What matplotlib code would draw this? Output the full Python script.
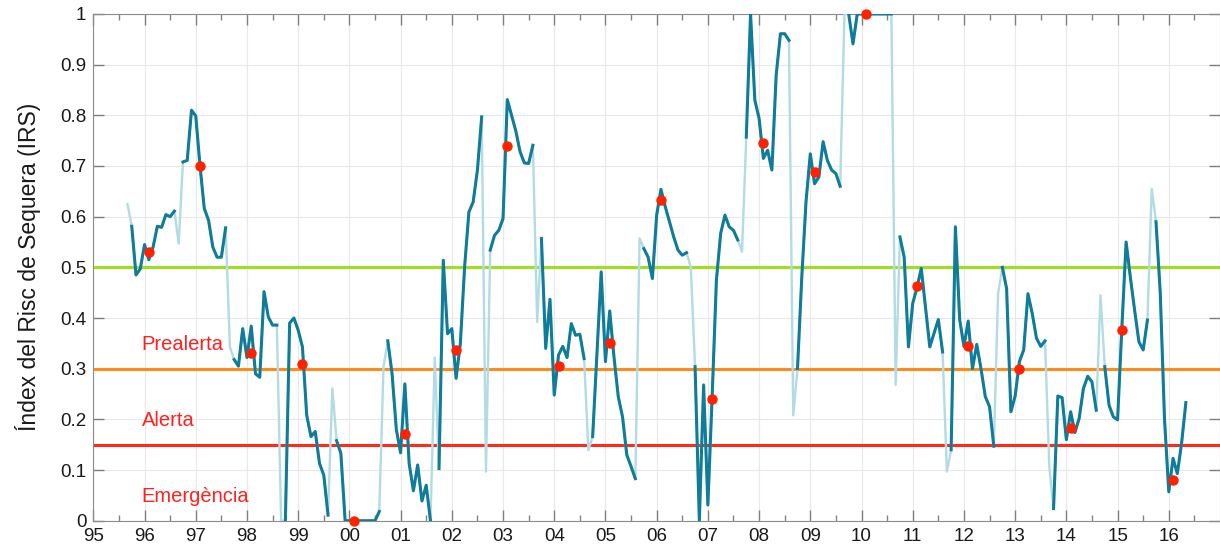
import numpy as np
import matplotlib.pyplot as plt

plt.rcParams['font.family'] = ['Liberation Sans', 'DejaVu Sans']

# valors mensuals de l'IRS, des de setembre de 1995 (any 95 + 8/12)
irs = [
    0.625, 0.581, 0.485, 0.497, 0.545, 0.515, 0.540, 0.581, 0.579, 0.604, 0.600, 0.611,
    0.547, 0.708, 0.711, 0.810, 0.799, 0.700, 0.616, 0.593, 0.540, 0.520, 0.520, 0.578,
    0.343, 0.318, 0.305, 0.379, 0.322, 0.384, 0.290, 0.283, 0.452, 0.402, 0.386, 0.386,
    0.000, 0.000, 0.390, 0.400, 0.376, 0.343, 0.208, 0.166, 0.176, 0.113, 0.090, 0.011,
    0.261, 0.158, 0.133, 0.000, 0.000, 0.000, 0.000, 0.000, 0.000, 0.000, 0.000, 0.018,
    0.304, 0.355, 0.290, 0.180, 0.134, 0.270, 0.113, 0.059, 0.110, 0.039, 0.070, 0.000,
    0.322, 0.103, 0.514, 0.369, 0.379, 0.281, 0.350, 0.501, 0.609, 0.629, 0.692, 0.797,
    0.097, 0.534, 0.563, 0.573, 0.596, 0.831, 0.800, 0.769, 0.728, 0.706, 0.705, 0.741,
    0.392, 0.557, 0.340, 0.437, 0.248, 0.327, 0.344, 0.322, 0.389, 0.366, 0.368, 0.320,
    0.139, 0.166, 0.330, 0.491, 0.314, 0.414, 0.323, 0.245, 0.205, 0.130, 0.107, 0.083,
    0.557, 0.537, 0.520, 0.478, 0.603, 0.654, 0.620, 0.590, 0.560, 0.534, 0.524, 0.529,
    0.500, 0.304, 0.000, 0.268, 0.031, 0.245, 0.475, 0.567, 0.603, 0.580, 0.573, 0.554,
    0.531, 0.757, 1.000, 0.830, 0.794, 0.715, 0.731, 0.692, 0.879, 0.961, 0.961, 0.948,
    0.208, 0.300, 0.480, 0.630, 0.724, 0.665, 0.678, 0.748, 0.711, 0.692, 0.685, 0.660,
    1.000, 1.000, 0.941, 1.000, 1.000, 1.000, 1.000, 1.000, 1.000, 1.000, 1.000, 1.000,
    0.268, 0.560, 0.520, 0.343, 0.429, 0.460, 0.498, 0.420, 0.343, 0.370, 0.397, 0.333,
    0.097, 0.140, 0.580, 0.397, 0.344, 0.394, 0.300, 0.348, 0.300, 0.245, 0.225, 0.147,
    0.448, 0.500, 0.458, 0.215, 0.246, 0.314, 0.337, 0.448, 0.409, 0.360, 0.344, 0.355,
    0.107, 0.024, 0.246, 0.243, 0.160, 0.215, 0.174, 0.202, 0.261, 0.285, 0.274, 0.218,
    0.445, 0.304, 0.228, 0.205, 0.199, 0.380, 0.550, 0.480, 0.415, 0.353, 0.337, 0.396,
    0.655, 0.590, 0.450, 0.200, 0.057, 0.123, 0.093, 0.153, 0.233,
]

# valor anual (punts vermells), de 1996 a 2016
anys = list(range(96, 117))
irs_anual = [0.530, 0.700, 0.331, 0.310, 0.000, 0.172, 0.337, 0.740, 0.306, 0.351, 0.632,
             0.241, 0.746, 0.688, 1.000, 0.463, 0.344, 0.300, 0.183, 0.376, 0.080]

llindars = [0.5, 0.3, 0.15]
colors_llindar = ['#9ee01f', '#ff8c1a', '#ff2a17']
etiquetes = ['Prealerta', 'Alerta', 'Emergència']
pos_etiquetes = [0.348, 0.197, 0.047]
etiquetes_x = ['95', '96', '97', '98', '99', '00', '01', '02', '03', '04', '05',
               '06', '07', '08', '09', '10', '11', '12', '13', '14', '15', '16']

irs = np.array(irs)
t = 95 + (8 + np.arange(len(irs))) / 12.0
fosc = irs.copy()
fosc[np.arange(len(irs)) % 12 == 0] = np.nan  # el mes de tall de cada any hidrològic

fig = plt.figure(figsize=(12.2, 5.48), dpi=100)
ax = fig.add_axes([0.0765, 0.0498, 0.9235, 0.9247])

for y, c in zip(llindars, colors_llindar):
    ax.axhline(y, color=c, lw=2.2, zorder=2)

ax.plot(t, irs, color='#b2dbe4', lw=1.7, zorder=3)
ax.plot(t, fosc, color='#0f7d99', lw=2.2, zorder=4)
ax.plot(np.array(anys) + 1 / 12.0, irs_anual, 'o', color='#ff2200', ms=7.5,
        mec='none', zorder=5, clip_on=False)

for txt, y in zip(etiquetes, pos_etiquetes):
    ax.text(95.945, y, txt, color='#ff2020', fontsize=14.5, va='center', ha='left')

ax.set_xlim(95, 117)
ax.set_ylim(0, 1)
ax.set_xticks(range(95, 117))
ax.set_xticklabels(etiquetes_x)
ax.set_xticks(np.arange(95.5, 117, 1), minor=True)
ax.set_yticks(np.arange(0, 1.01, 0.1))
ax.set_yticklabels(['0', '0.1', '0.2', '0.3', '0.4', '0.5', '0.6', '0.7', '0.8', '0.9', '1'])
ax.grid(True, which='major', color='#e8e8e8', lw=0.8)
ax.set_axisbelow(True)
ax.tick_params(which='both', direction='in', top=True, right=True,
               color='#808080', labelsize=13.5, labelcolor='#1a1a1a', pad=5)
ax.tick_params(which='major', length=8, width=1)
ax.tick_params(which='minor', length=4, width=1)
for s in ax.spines.values():
    s.set_color('#8c8c8c')
ax.set_ylabel('Índex del Risc de Sequera (IRS)', fontsize=16.5, color='#1a1a1a', labelpad=14)

fig.savefig('out.png', dpi=100)
